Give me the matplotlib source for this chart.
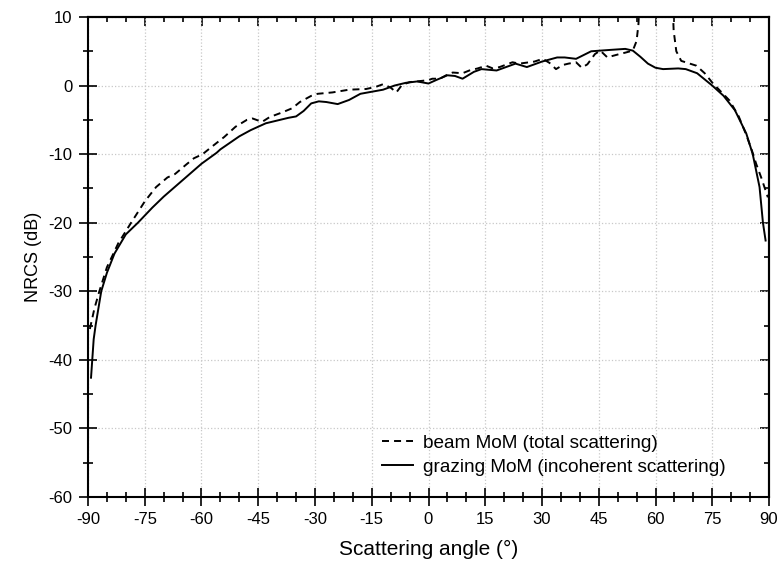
import numpy as np
import matplotlib
matplotlib.use("Agg")
import matplotlib.pyplot as plt
from matplotlib.ticker import MultipleLocator

plt.rcParams['font.family'] = ['Liberation Sans', 'DejaVu Sans']
plt.rcParams['axes.unicode_minus'] = False

# beam MoM (total scattering) - dashed
beam_angle = [-89.5, -88.3, -87, -85, -82, -78.6, -75, -72, -69, -67, -64, -62, -59.7, -57, -54, -51,
              -48, -46.5, -44, -42, -38.6, -36, -34, -31, -29.3, -25.4, -21, -16.5, -14, -12, -10,
              -8.5, -7, -5, -1.5, 0, 1, 3, 5, 6.4, 9, 10.8, 13, 15.2, 17, 18.8, 22.2, 24, 26.7, 28,
              30.2, 32, 33.7, 35.5, 37, 39, 40.5, 42, 44, 45.4, 47.3, 48.5, 50.5, 52, 54, 55, 55.5,
              56, 57, 63, 64.3, 64.8, 65.5, 66.8, 70.8, 73, 75.2, 77.5, 79.6, 82, 84, 85.5, 86.6,
              88, 89.7]
beam_nrcs = [-35.5, -32.5, -30, -26.5, -23, -20, -16.9, -14.8, -13.4, -12.9, -11.5, -10.6, -10, -8.8,
             -7.5, -6.0, -5.0, -4.8, -5.3, -4.6, -3.9, -3.3, -2.4, -1.5, -1.2, -1.0, -0.6, -0.5, -0.2,
             0.2, -0.3, -1.0, 0.1, 0.5, 0.7, 0.8, 1.0, 1.0, 1.6, 1.9, 1.8, 2.2, 2.5, 2.9, 2.5, 2.7,
             3.4, 3.2, 3.4, 3.5, 3.9, 3.3, 2.4, 3.0, 3.2, 3.4, 2.6, 3.1, 4.6, 5.1, 4.1, 4.3, 4.6, 4.8,
             5.1, 6.5, 9, 15, 30, 30, 15, 8, 5, 3.6, 2.9, 1.8, 0.3, -1.0, -2.2, -4.5, -7.2, -9.5,
             -11.4, -13.5, -16.3]

# grazing MoM (incoherent scattering) - solid
graz_angle = [-89.2, -88.5, -88, -86.5, -85, -83, -80, -76.8, -73, -70, -65, -60, -56, -55, -50, -47,
              -45, -43, -40, -37, -35, -33, -31, -29, -27, -24, -21, -18, -15, -12, -9, -6, -3, 0, 2,
              5, 7, 9, 12, 14, 18, 21, 23, 26, 30, 34, 36, 39, 43, 48, 52, 54, 56, 58, 60, 62, 66,
              68, 71, 75, 78, 81, 84, 85.7, 87.5, 88.4, 89.1]
graz_nrcs = [-42.6, -37, -35, -30, -27.3, -24.5, -21.7, -20, -17.8, -16.2, -13.8, -11.4, -9.8, -9.3,
             -7.4, -6.5, -6.0, -5.5, -5.1, -4.7, -4.5, -3.7, -2.6, -2.3, -2.4, -2.7, -2.1, -1.2, -0.9,
             -0.6, 0.0, 0.4, 0.6, 0.3, 0.8, 1.5, 1.4, 1.0, 2.0, 2.4, 2.2, 2.8, 3.2, 2.7, 3.5, 4.1,
             4.1, 3.9, 5.0, 5.2, 5.35, 5.1, 4.2, 3.2, 2.6, 2.4, 2.5, 2.4, 1.8, 0.0, -1.5, -3.6, -7.0,
             -10, -14.8, -20, -22.6]

x_ticks = [-90, -75, -60, -45, -30, -15, 0, 15, 30, 45, 60, 75, 90]
y_ticks = [-60, -50, -40, -30, -20, -10, 0, 10]

fig = plt.figure(figsize=(7.82, 5.72), dpi=100)
ax = fig.add_axes([88/782, 1-497/572, (769-88)/782, (497-17)/572])

ax.plot(beam_angle, beam_nrcs, color='black', lw=1.4, ls=(0, (3.6, 2.6)),
        label='beam MoM (total scattering)')
ax.plot(graz_angle, graz_nrcs, color='black', lw=1.4, ls='-',
        label='grazing MoM (incoherent scattering)')

ax.set_xlim(-90, 90)
ax.set_ylim(-60, 10)
ax.set_xticks(x_ticks)
ax.set_yticks(y_ticks)
ax.xaxis.set_minor_locator(MultipleLocator(5))
ax.yaxis.set_minor_locator(MultipleLocator(5))
ax.grid(True, which='major', color='#c8c8c8', ls=':', lw=0.9)
ax.set_axisbelow(True)

for s in ax.spines.values():
    s.set_linewidth(1.5)

ax.tick_params(which='major', direction='inout', length=13, width=1.2, labelsize=12, pad=4.5)
ax.tick_params(which='minor', direction='inout', length=7, width=1.2)

sx = ax.secondary_xaxis('top')
sx.set_xticks(x_ticks)
sx.xaxis.set_minor_locator(MultipleLocator(5))
sx.tick_params(which='major', direction='in', length=6.5, width=1.2, labeltop=False)
sx.tick_params(which='minor', direction='in', length=3.6, width=1.2)
sx.spines['top'].set_linewidth(1.5)

sy = ax.secondary_yaxis('right')
sy.set_yticks(y_ticks)
sy.yaxis.set_minor_locator(MultipleLocator(5))
sy.tick_params(which='major', direction='in', length=6.5, width=1.2, labelright=False)
sy.tick_params(which='minor', direction='in', length=3.6, width=1.2)
sy.spines['right'].set_linewidth(1.5)

ax.set_xlabel('Scattering angle (°)', fontsize=15, labelpad=9)
ax.set_ylabel('NRCS (dB)', fontsize=13, labelpad=5)

ax.legend(loc='lower right', bbox_to_anchor=(0.962, 0.008), frameon=False, fontsize=13.7,
          handlelength=1.6, handletextpad=0.55, labelspacing=0.35)

fig.savefig('out.png', dpi=100)
